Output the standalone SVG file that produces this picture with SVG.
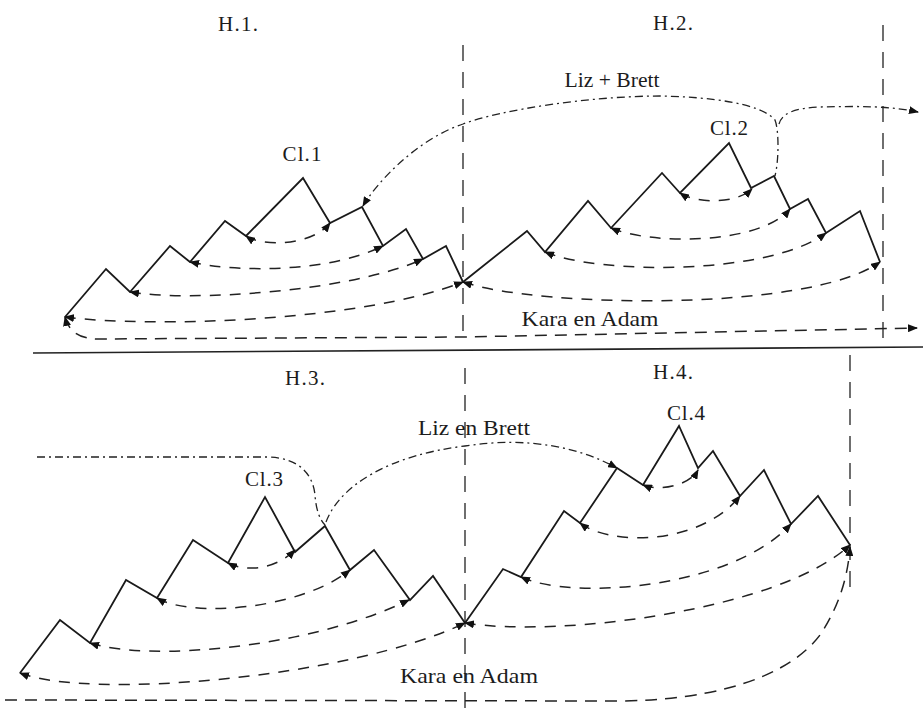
<svg xmlns="http://www.w3.org/2000/svg" width="923" height="708" viewBox="0 0 923 708">
<style>
text{font-family:"Liberation Serif","Times New Roman",serif;fill:#1c1c1c;text-anchor:middle}
.lbl{font-size:21px}
.big{font-size:22px}
.zz{fill:none;stroke:#1a1a1a;stroke-width:1.8;stroke-linejoin:miter}
.arc{fill:none;stroke:#222;stroke-width:1.5;stroke-dasharray:11 9;marker-start:url(#ah);marker-end:url(#ah)}
.arc1{fill:none;stroke:#222;stroke-width:1.5;stroke-dasharray:12 8}
.dd{fill:none;stroke:#222;stroke-width:1.3;stroke-dasharray:8 4 2 4}
.vl{fill:none;stroke:#222;stroke-width:1.3;stroke-dasharray:16 11}
.sep{fill:none;stroke:#222;stroke-width:1.7}
</style>
<defs>
<marker id="ah" viewBox="0 0 10 8" markerWidth="10" markerHeight="8" refX="9" refY="4" orient="auto-start-reverse" markerUnits="userSpaceOnUse">
<path d="M0,0 L10,4 L0,8 Z" fill="#111"/>
</marker>
</defs>

<g id="dividers">
<path class="sep" d="M33,353 L923,347"/>
<path class="vl" d="M463,45 L463,338"/>
<path class="vl" d="M883,25 L883,342"/>
<path class="vl" d="M465,368 L465,708"/>
<path class="vl" d="M850,355 L850,598"/>
</g>

<g id="labels">
<text class="lbl" x="238" y="31" textLength="40" lengthAdjust="spacing">H.1.</text>
<text class="lbl" x="673" y="30" textLength="40" lengthAdjust="spacing">H.2.</text>
<text class="lbl" x="305" y="385" textLength="40" lengthAdjust="spacing">H.3.</text>
<text class="lbl" x="673" y="379" textLength="40" lengthAdjust="spacing">H.4.</text>
<text class="lbl" x="302" y="161" textLength="39" lengthAdjust="spacing">Cl.1</text>
<text class="lbl" x="729" y="135" textLength="38" lengthAdjust="spacing">Cl.2</text>
<text class="lbl" x="264" y="486" textLength="38" lengthAdjust="spacing">Cl.3</text>
<text class="lbl" x="686" y="420" textLength="38" lengthAdjust="spacing">Cl.4</text>
<text class="big" x="612" y="87" textLength="95" lengthAdjust="spacingAndGlyphs">Liz + Brett</text>
<text class="big" x="590" y="326" textLength="137" lengthAdjust="spacingAndGlyphs">Kara en Adam</text>
<text class="big" x="474" y="435" textLength="112" lengthAdjust="spacingAndGlyphs">Liz en Brett</text>
<text class="big" x="469" y="683" textLength="138" lengthAdjust="spacingAndGlyphs">Kara en Adam</text>
</g>

<g id="zigzag-h1">
<polyline class="zz" points="65,317 106,269 130,292 170,246 190,262 225,221 246,236 303,178 330,223 362,207 383,246 406,229 423,259 446,246 463,282"/>
</g>
<g id="zigzag-h2">
<polyline class="zz" points="463,282 527,231 545,252 588,201 611,228 662,173 680,193 729,143 751,188 774,176 790,209 808,199 826,233 860,211 880,262"/>
</g>
<g id="zigzag-h3">
<polyline class="zz" points="20,673 60,620 90,643 126,580 157,598 193,540 228,563 265,497 295,552 325,526 350,570 374,550 410,600 433,576 465,623"/>
</g>
<g id="zigzag-h4">
<polyline class="zz" points="465,623 503,569 521,577 564,511 580,523 617,468 643,485 679,426 698,468 713,451 740,496 764,470 791,524 818,496 850,545"/>
</g>

<g id="connectors">
<path class="arc" d="M246,236 C262,247 312,246 330,223"/>
<path class="arc" d="M190,262 C240,273 330,272 383,246"/>
<path class="arc" d="M130,292 C190,302 350,292 423,259"/>
<path class="arc" d="M65,317 C150,328 360,322 463,282"/>
<path class="arc" d="M680,193 C695,203 735,205 752,189"/>
<path class="arc" d="M611,228 C650,245 760,245 790,209"/>
<path class="arc" d="M545,252 C600,275 770,275 826,233"/>
<path class="arc" d="M463,282 C540,308 810,312 880,262"/>
<path class="arc1" d="M65,317 C68,330 78,338 95,339 L463,337 L917,328" marker-start="url(#ah)" marker-end="url(#ah)"/>
<path class="dd" d="M363,206 C375,185 415,140 463,124 C500,110 590,96 660,96 C710,97 760,103 775,120 C779,130 779,160 775,176" marker-start="url(#ah)"/>
<path class="dd" d="M779,124 C782,113 795,108 820,107 C860,106 890,106 918,112" marker-end="url(#ah)"/>

<path class="arc" d="M228,563 C245,572 275,570 295,550"/>
<path class="arc" d="M157,598 C190,618 300,610 350,570"/>
<path class="arc" d="M90,643 C150,662 310,648 409,600"/>
<path class="arc" d="M20,673 C90,700 350,678 465,623"/>
<path class="arc" d="M643,485 C660,492 690,485 698,470"/>
<path class="arc" d="M580,523 C610,546 700,546 740,496"/>
<path class="arc" d="M521,577 C570,600 730,590 791,524"/>
<path class="arc" d="M465,623 C560,638 780,610 850,545"/>
<path class="arc1" d="M5,700 L620,701 C720,700 790,675 820,635 C840,605 848,575 850,547" marker-end="url(#ah)"/>
<path class="dd" d="M37,457 L268,457 C300,458 313,475 315,495 C316,510 320,520 325,525"/>
<path class="dd" d="M326,522 C340,485 390,455 465,446 C530,436 580,448 617,468" marker-end="url(#ah)"/>
</g>
</svg>
